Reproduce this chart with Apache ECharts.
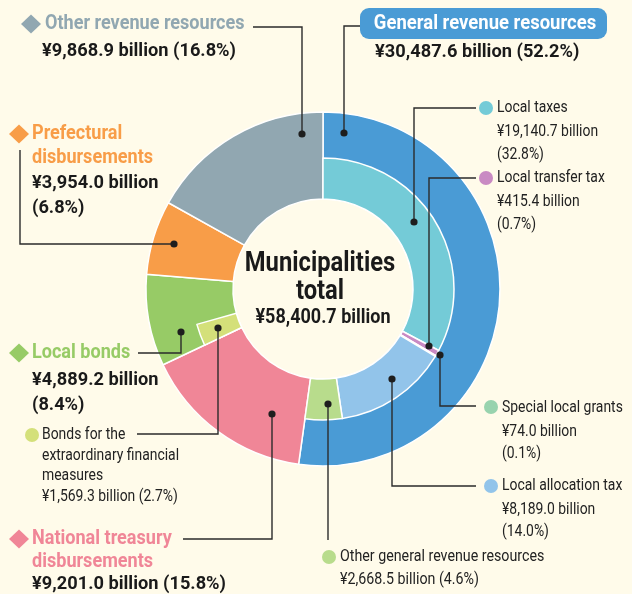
<!DOCTYPE html>
<html>
<head>
<meta charset="utf-8">
<script src="https://cdn.jsdelivr.net/npm/echarts@6/dist/echarts.min.js"></script>
<style>
html, body { margin: 0; padding: 0; background: #fffbea; }
#chart { width: 632px; height: 594px; }
</style>
</head>
<body>
<div id="chart"></div>
<script>
// outer ring: main categories
const mainNames = ['General revenue resources', 'National treasury disbursements', 'Local bonds', 'Prefectural disbursements', 'Other revenue resources']
const mainValues = [30487.6, 9201.0, 4889.2, 3954.0, 9868.9]
const mainPct = [52.2, 15.8, 8.4, 6.8, 16.8]
const mainColors = ['#4a9bd5', '#f08697', '#97cb66', '#f89d48', '#91a7b1']
// inner ring: general revenue breakdown
const subNames = ['Local taxes', 'Local transfer tax', 'Special local grants', 'Local allocation tax', 'Other general revenue resources']
const subValues = [19140.7, 415.4, 74.0, 8189.0, 2668.5]
const subPct = [32.8, 0.7, 0.1, 14.0, 4.6]
const subColors = ['#74cbd7', '#c98ac3', '#98d3ae', '#92c4ea', '#b8dc8c']
// part of local bonds
const bondName = 'Bonds for the extraordinary financial measures'
const bondValue = 1569.3
const bondPct = 2.7
const bondColor = '#d4e07a'
const totalValue = 58400.7

const FONT = 'Roboto, sans-serif'
const INK = '#222222'
const fmt = v => '¥' + v.toLocaleString('en-US', { minimumFractionDigits: 1, maximumFractionDigits: 1 }) + ' billion'
const pct = p => '(' + p.toFixed(1) + '%)'

// text squeezed horizontally to look like a condensed face
const T = (text, x, y, size, color, weight, align, sx) => ({
  type: 'text', x, y, z: 20, scaleX: sx || 0.87,
  style: { text, fill: color, font: `${weight || 'normal'} ${size}px ${FONT}`, textAlign: align || 'left', textVerticalAlign: 'middle' }
})
const L = points => ({ type: 'polyline', z: 15, shape: { points }, style: { stroke: '#2b2b2b', lineWidth: 1.4, fill: null } })
const D = (x, y) => ({ type: 'circle', z: 16, shape: { cx: x, cy: y, r: 3.6 }, style: { fill: '#1e1e1e' } })
const C = (x, y, color) => ({ type: 'circle', z: 16, shape: { cx: x, cy: y, r: 7 }, style: { fill: color } })
const Dia = (x, y, color) => ({ type: 'polygon', z: 16, shape: { points: [[x, y - 9.5], [x + 10, y], [x, y + 9.5], [x - 10, y]] }, style: { fill: color } })

// inner ring data: breakdown + bond piece, rest transparent so the outer ring shows through
const hide = v => ({ value: v, itemStyle: { color: 'transparent', borderWidth: 0 } })
const innerData = subValues.map((v, i) => ({ name: subNames[i], value: v, itemStyle: { color: subColors[i] } }))
innerData.push(hide(mainValues[1]))
innerData.push({ name: bondName, value: bondValue, itemStyle: { color: bondColor } })
innerData.push(hide(mainValues[2] - bondValue))
innerData.push(hide(mainValues[3]))
innerData.push(hide(mainValues[4]))

const graphics = [
  // center
  T('Municipalities', 320, 264, 27, '#1a1a1a', 'bold', 'center', 0.88),
  T('total', 320, 292, 27, '#1a1a1a', 'bold', 'center', 0.88),
  T(fmt(totalValue), 323, 318, 20, '#1a1a1a', 'bold', 'center', 0.9),

  // general revenue
  { type: 'rect', z: 14, shape: { x: 360, y: 8, width: 247, height: 31, r: 9 }, style: { fill: mainColors[0] } },
  T(mainNames[0], 485, 24, 21, '#ffffff', 'bold', 'center', 0.88),
  T(fmt(mainValues[0]) + ' ' + pct(mainPct[0]), 375, 52, 19, '#1a1a1a', 'bold', 'left', 0.96),
  L([[360, 26], [344, 26], [344, 133]]), D(344, 133),

  // other revenue
  Dia(31, 24, mainColors[4]),
  T(mainNames[4], 45, 24, 21, mainColors[4], 'bold', 'left', 0.86),
  T(fmt(mainValues[4]) + ' ' + pct(mainPct[4]), 42, 51, 19, '#1a1a1a', 'bold', 'left', 0.96),
  L([[253, 27], [302, 27], [302, 134]]), D(302, 134),

  // prefectural
  Dia(19, 134, mainColors[3]),
  T('Prefectural', 32, 134, 21, mainColors[3], 'bold', 'left', 0.86),
  T('disbursements', 32, 158, 21, mainColors[3], 'bold', 'left', 0.86),
  T(fmt(mainValues[3]), 32, 183, 19, '#1a1a1a', 'bold', 'left', 0.96),
  T(pct(mainPct[3]), 32, 208, 19, '#1a1a1a', 'bold', 'left', 0.96),
  L([[20, 150], [20, 244], [174, 244]]), D(174, 244),

  // local bonds
  Dia(19, 353, mainColors[2]),
  T(mainNames[2], 32, 353, 21, mainColors[2], 'bold', 'left', 0.86),
  T(fmt(mainValues[2]), 32, 380, 19, '#1a1a1a', 'bold', 'left', 0.96),
  T(pct(mainPct[2]), 32, 405, 19, '#1a1a1a', 'bold', 'left', 0.96),
  L([[138, 353], [181, 353], [181, 332]]), D(181, 332),

  // extraordinary bonds
  C(32, 435, bondColor),
  T('Bonds for the', 42, 435, 16, INK),
  T('extraordinary financial', 42, 456, 16, INK),
  T('measures', 42, 476, 16, INK),
  T(fmt(bondValue) + ' ' + pct(bondPct), 42, 497, 16, INK),
  L([[137, 434], [218, 434], [218, 328]]), D(218, 328),

  // national treasury
  Dia(19, 539, mainColors[1]),
  T('National treasury', 32, 539, 21, mainColors[1], 'bold', 'left', 0.86),
  T('disbursements', 32, 562, 21, mainColors[1], 'bold', 'left', 0.86),
  T(fmt(mainValues[1]) + ' ' + pct(mainPct[1]), 32, 584, 19, '#1a1a1a', 'bold', 'left', 0.96),
  L([[183, 539], [272, 539], [272, 414]]), D(272, 414),

  // local taxes
  C(486, 108, subColors[0]),
  T(subNames[0], 497, 108, 16, INK),
  T(fmt(subValues[0]), 497, 132, 16, INK),
  T(pct(subPct[0]), 497, 155, 16, INK),
  L([[476, 108], [414, 108], [414, 222]]), D(414, 222),

  // local transfer tax
  C(486, 178, subColors[1]),
  T(subNames[1], 497, 178, 16, INK),
  T(fmt(subValues[1]), 497, 202, 16, INK),
  T(pct(subPct[1]), 497, 225, 16, INK),
  L([[476, 178], [429, 178], [429, 346]]), D(429, 346),

  // special local grants
  C(491, 407, subColors[2]),
  T(subNames[2], 502, 408, 16, INK),
  T(fmt(subValues[2]), 502, 432, 16, INK),
  T(pct(subPct[2]), 502, 454, 16, INK),
  L([[476, 406], [440, 406], [440, 355]]), D(440, 355),

  // local allocation tax
  C(491, 486, subColors[3]),
  T(subNames[3], 502, 486, 16, INK),
  T(fmt(subValues[3]), 502, 510, 16, INK),
  T(pct(subPct[3]), 502, 532, 16, INK),
  L([[476, 486], [392, 486], [392, 379]]), D(392, 379),

  // other general revenue
  C(329, 557, subColors[4]),
  T(subNames[4], 340, 557, 16, INK, 'normal', 'left', 0.89),
  T(fmt(subValues[4]) + ' ' + pct(subPct[4]), 340, 580, 16, INK, 'normal', 'left', 0.89),
  L([[328, 404], [328, 540]]), D(328, 404)
]

const chart = echarts.init(document.getElementById('chart'))
chart.setOption({
  backgroundColor: '#fffbea',
  animation: false,
  series: [
    {
      type: 'pie',
      center: [323, 289],
      radius: [90, 177],
      startAngle: 90,
      silent: true,
      label: { show: false },
      labelLine: { show: false },
      itemStyle: { borderColor: '#ffffff', borderWidth: 1.5 },
      data: mainValues.map((v, i) => ({ name: mainNames[i], value: v, itemStyle: { color: mainColors[i] } }))
    },
    {
      type: 'pie',
      center: [323, 289],
      radius: [90, 131],
      startAngle: 90,
      silent: true,
      label: { show: false },
      labelLine: { show: false },
      itemStyle: { borderColor: '#ffffff', borderWidth: 1.5 },
      data: innerData
    }
  ],
  graphic: graphics
})
</script>
</body>
</html>
